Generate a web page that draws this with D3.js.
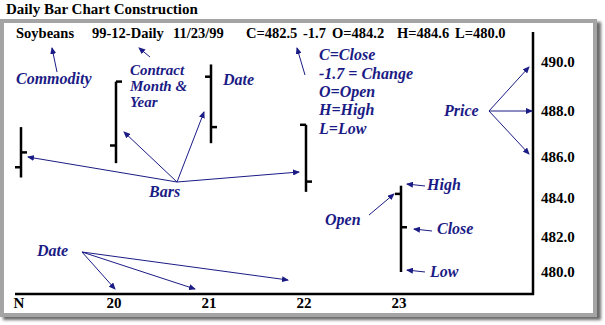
<!DOCTYPE html>
<html>
<head>
<meta charset="utf-8">
<script src="https://cdn.jsdelivr.net/npm/d3@7/dist/d3.min.js"></script>
<style>
  html, body { margin: 0; padding: 0; background: #ffffff; }
  svg { display: block; }
</style>
</head>
<body>
<script>
// Daily OHLC bars, one per trading day
const dates  = ["N", "20", "21", "22", "23"];
const opens  = [485.5, 486.5, 489.4, 487.4, 484.2];
const highs  = [487.3, 489.2, 489.9, 487.4, 484.6];
const lows   = [485.0, 485.7, 486.6, 484.3, 480.0];
const closes = [486.2, 489.2, 487.3, 484.8, 482.5];

// Price axis labels
const priceTicks = [480, 482, 484, 486, 488, 490];

// Quote line for the last day
const commodity = "Soybeans";
const contract = "99-12-Daily";
const quoteDate = "11/23/99";
const change = "-1.7";

const W = 605, H = 325;
const navy = "#1b1b85";
const serif = "'Liberation Serif', 'Times New Roman', Times, serif";

const svg = d3.select("body").append("svg")
  .attr("width", W).attr("height", H);

const defs = svg.append("defs");
defs.append("filter").attr("id", "shadow")
  .attr("x", "-5%").attr("y", "-5%").attr("width", "110%").attr("height", "110%")
  .append("feGaussianBlur").attr("stdDeviation", 1.6);
defs.append("marker")
  .attr("id", "head")
  .attr("markerUnits", "userSpaceOnUse")
  .attr("markerWidth", 7).attr("markerHeight", 6)
  .attr("refX", 6).attr("refY", 3)
  .attr("orient", "auto")
  .append("path").attr("d", "M0,0 L7,3 L0,6 Z").attr("fill", navy);

// Title
svg.append("text")
  .attr("x", 6).attr("y", 14)
  .style("font-family", serif).style("font-weight", "bold").style("font-size", "15px")
  .attr("fill", "#000").text("Daily Bar Chart Construction");

// Framed panel with drop shadow
svg.append("rect").attr("x", 3).attr("y", 22).attr("width", 598).attr("height", 298)
  .attr("fill", "#6a6a6a").attr("filter", "url(#shadow)");
svg.append("rect").attr("x", 0).attr("y", 19).attr("width", 597).attr("height", 298)
  .attr("fill", "#a4a4a4");
svg.append("rect").attr("x", 4).attr("y", 23).attr("width", 589).attr("height", 290)
  .attr("fill", "#ffffff");

// Scales
const x = d3.scalePoint().domain(dates).range([21, 401]);
const y = d3.scaleLinear().domain(priceTicks).range([272, 237, 198, 157, 111, 62]);

const axisX = 533, axisY = 294;
const fmt = d3.format(".1f");

// Price labels to the right of the axis line
svg.append("g").selectAll("text").data(priceTicks).join("text")
  .attr("x", axisX + 8).attr("y", d => y(d) + 5)
  .style("font-family", serif).style("font-weight", "bold").style("font-size", "15px")
  .attr("fill", "#000").text(d => fmt(d));

// Date labels under the baseline
svg.append("g").selectAll("text").data(dates).join("text")
  .attr("x", d => x(d) - 2).attr("y", axisY + 14)
  .attr("text-anchor", "middle")
  .style("font-family", serif).style("font-weight", "bold").style("font-size", "15px")
  .attr("fill", "#000").text(d => d);

svg.append("line").attr("x1", axisX).attr("x2", axisX).attr("y1", 32).attr("y2", axisY + 1)
  .attr("stroke", "#000").attr("stroke-width", 2.5);
svg.append("line").attr("x1", 15).attr("x2", axisX + 1).attr("y1", axisY).attr("y2", axisY)
  .attr("stroke", "#000").attr("stroke-width", 2.5);

// OHLC bars
const bars = dates.map((d, i) => ({ d, o: opens[i], h: highs[i], l: lows[i], c: closes[i] }));
const tick = 6;
const gb = svg.append("g").attr("stroke", "#000").attr("stroke-width", 2.5);
gb.selectAll(".hl").data(bars).join("line")
  .attr("x1", b => x(b.d)).attr("x2", b => x(b.d))
  .attr("y1", b => y(b.h)).attr("y2", b => y(b.l));
gb.selectAll(".op").data(bars).join("line")
  .attr("x1", b => x(b.d) - tick).attr("x2", b => x(b.d))
  .attr("y1", b => y(b.o)).attr("y2", b => y(b.o));
gb.selectAll(".cl").data(bars).join("line")
  .attr("x1", b => x(b.d)).attr("x2", b => x(b.d) + tick)
  .attr("y1", b => y(b.c)).attr("y2", b => y(b.c));

// Quote line
const last = bars[bars.length - 1];
const quote = [
  [16, commodity], [92, contract], [173, quoteDate],
  [246, "C=" + last.c.toFixed(1)], [303, change],
  [332, "O=" + last.o.toFixed(1)], [397, "H=" + last.h.toFixed(1)],
  [455, "L=" + last.l.toFixed(1)]
];
svg.append("g").selectAll("text").data(quote).join("text")
  .attr("x", q => q[0]).attr("y", 38)
  .style("font-family", serif).style("font-weight", "bold").style("font-size", "14.5px")
  .attr("fill", "#000").text(q => q[1]);

// Callout labels [x, y, text, size]
const labels = [
  [16, 84, "Commodity", 16],
  [130, 75, "Contract", 15], [130, 91, "Month &", 15], [130, 107, "Year", 15],
  [223, 85, "Date", 16],
  [149, 197, "Bars", 16],
  [319, 60, "C=Close", 16], [319, 79, "-1.7 = Change", 16], [319, 97, "O=Open", 16],
  [319, 115, "H=High", 16], [319, 134, "L=Low", 16],
  [444, 116, "Price", 16],
  [427, 190, "High", 16], [437, 234, "Close", 16], [430, 277, "Low", 16],
  [325, 225, "Open", 16],
  [37, 256, "Date", 16]
];
svg.append("g").selectAll("text").data(labels).join("text")
  .attr("x", l => l[0]).attr("y", l => l[1])
  .style("font-family", serif).style("font-weight", "bold").style("font-style", "italic")
  .style("font-size", l => l[3] + "px").attr("fill", navy).text(l => l[2]);

// Callout arrows [x1, y1, x2, y2], head at the second point
const arrows = [
  [57, 72, 52, 48], [150, 57, 139, 48], [305, 75, 297, 48],
  [177, 182, 28, 157], [177, 182, 124, 132], [177, 182, 204, 112], [177, 182, 299, 172],
  [489, 111, 529, 67], [489, 111, 532, 111], [489, 111, 529, 154],
  [369, 215, 394, 194],
  [425, 186, 407, 184], [432, 231, 414, 229], [425, 272, 407, 270],
  [82, 252, 115, 289], [82, 252, 195, 289], [82, 252, 288, 280]
];
svg.append("g").selectAll("line").data(arrows).join("line")
  .attr("x1", a => a[0]).attr("y1", a => a[1])
  .attr("x2", a => a[2]).attr("y2", a => a[3])
  .attr("stroke", navy).attr("stroke-width", 1)
  .attr("marker-end", "url(#head)");
</script>
</body>
</html>
